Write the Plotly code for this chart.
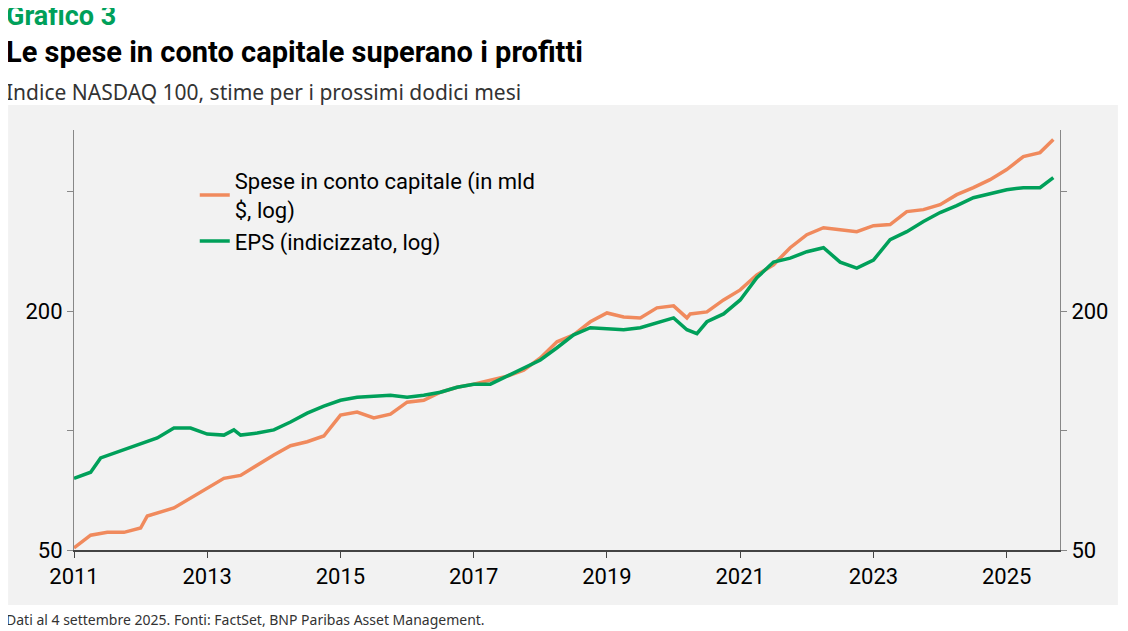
import plotly.graph_objects as go

x_capex = [2011.0,2011.25,2011.5,2011.75,2012.0,2012.1,2012.5,2012.75,2013.0,2013.25,2013.5,2013.75,2014.0,2014.25,2014.5,2014.75,2015.0,2015.25,2015.5,2015.75,2016.0,2016.25,2016.5,2016.75,2017.0,2017.25,2017.5,2017.75,2018.0,2018.25,2018.5,2018.75,2019.0,2019.25,2019.5,2019.75,2020.0,2020.2,2020.25,2020.5,2020.75,2021.0,2021.25,2021.5,2021.75,2022.0,2022.25,2022.5,2022.75,2023.0,2023.25,2023.5,2023.75,2024.0,2024.25,2024.5,2024.75,2025.0,2025.25,2025.5,2025.7]
capex = [50.6,54.5,55.4,55.4,56.8,60.9,63.8,67.7,71.6,75.8,77.1,81.9,86.8,91.6,93.7,96.9,109.4,111.3,107.6,110.0,117.9,119.2,124.9,128.6,130.9,134.0,137.1,142.0,152.4,167.4,174.3,188.0,197.9,193.4,192.3,203.8,206.2,192.3,196.8,199.1,213.4,226.2,246.9,261.7,288.9,311.7,324.6,320.8,317.1,328.4,330.4,356.3,360.4,371.0,393.1,409.4,428.9,454.7,490.3,501.8,541.2]
x_eps = [2011.0,2011.25,2011.4,2011.75,2012.0,2012.25,2012.5,2012.75,2013.0,2013.25,2013.4,2013.5,2013.75,2014.0,2014.25,2014.5,2014.75,2015.0,2015.25,2015.5,2015.75,2016.0,2016.25,2016.5,2016.75,2017.0,2017.25,2017.5,2017.75,2018.0,2018.25,2018.5,2018.75,2019.0,2019.25,2019.5,2019.75,2020.0,2020.2,2020.35,2020.5,2020.75,2021.0,2021.25,2021.5,2021.75,2022.0,2022.25,2022.5,2022.75,2023.0,2023.25,2023.5,2023.75,2024.0,2024.25,2024.5,2024.75,2025.0,2025.25,2025.5,2025.7]
eps = [75.8,78.5,85.3,89.5,92.6,95.8,101.5,101.5,98.0,97.4,100.4,97.4,98.6,100.4,105.1,110.6,115.2,119.2,121.3,122.0,122.7,121.3,122.7,124.9,128.6,130.9,130.9,137.1,143.7,150.6,161.7,174.3,181.6,180.5,179.5,181.6,186.9,192.3,179.5,175.4,188.0,196.8,213.4,242.7,265.8,272.0,282.3,288.9,265.8,256.8,268.9,302.8,317.1,336.3,354.3,368.9,386.3,395.4,404.6,409.4,409.4,433.9]
x_ticks = [2011,2013,2015,2017,2019,2021,2023,2025]
y_ticks = [50,100,200,400]
y_labels = ["50","","200",""]

ORANGE = "#f08a5d"
GREEN = "#00a05a"
BG = "#f2f2f2"
font = "Liberation Sans Narrow, Roboto, sans-serif"

fig = go.Figure()
fig.add_trace(go.Scatter(x=x_capex, y=capex, mode="lines", line=dict(color=ORANGE, width=3.5),
                         name="Spese in conto capitale (in mld<br>$, log)"))
fig.add_trace(go.Scatter(x=x_eps, y=eps, mode="lines", line=dict(color=GREEN, width=3.5),
                         name="EPS (indicizzato, log)"))
fig.add_trace(go.Scatter(x=[2011, 2025.8], y=[50, 50], mode="lines", yaxis="y2",
                         line=dict(width=0), showlegend=False, hoverinfo="skip"))

OFF = 8
W, H = 1112, 623
l, t = 74 - OFF, 130 - OFF
r = W - (1062 - OFF)
b = H - (550 - OFF)
ph = H - t - b; pw = W - l - r
ymin, ymax = 1.69897, 2.7575
fig.update_layout(
    width=W, height=H, paper_bgcolor="white", plot_bgcolor=BG,
    margin=dict(l=l, r=r, t=t, b=b),
    font=dict(family=font, size=20, color="black"),
    xaxis=dict(range=[2011, 2025.8], tickvals=x_ticks, showgrid=False, zeroline=False,
               showline=True, linecolor="#444", linewidth=1.5, ticks="outside", ticklen=6,
               tickfont=dict(size=22, family=font)),
    yaxis=dict(type="log", range=[ymin, ymax], tickvals=y_ticks, ticktext=y_labels,
               showgrid=False, showline=True, linecolor="#888", ticks="outside", ticklen=6,
               tickcolor="#888", tickfont=dict(size=22, family=font)),
    yaxis2=dict(type="log", range=[ymin, ymax], tickvals=y_ticks, ticktext=y_labels,
                overlaying="y", side="right", showgrid=False, showline=True, linecolor="#888",
                ticks="outside", ticklen=6, tickcolor="#888", tickfont=dict(size=22, family=font)),
    legend=dict(x=(195 - 74) / pw, y=1 - 30 / ph, xanchor="left", yanchor="top",
                bgcolor="rgba(0,0,0,0)", font=dict(size=22, family=font), tracegroupgap=6),
    showlegend=True,
)
fig.add_shape(type="rect", xref="paper", yref="paper", layer="below",
              x0=-l / pw, x1=(W - l) / pw, y0=(550 - 605) / ph, y1=(550 - 105) / ph,
              fillcolor=BG, line=dict(width=0))

def ann(text, ypx, size, color="black", bold=False, fam=font):
    fig.add_annotation(xref="paper", yref="paper", x=(4 - 74) / pw, y=(550 - ypx) / ph,
                       xanchor="left", yanchor="middle", showarrow=False,
                       text=f"<b>{text}</b>" if bold else text,
                       font=dict(size=size, color=color, family=fam))

ann("Grafico 3", 16, 27, GREEN, True)
ann("Le spese in conto capitale superano i profitti", 52, 29, "black", True)
ann("Indice NASDAQ 100, stime per i prossimi dodici mesi", 92, 21, "#333", False, "Noto Sans")
ann("Dati al 4 settembre 2025. Fonti: FactSet, BNP Paribas Asset Management.", 619, 14, "#333", False, "Noto Sans")

fig.write_html("out.html")
